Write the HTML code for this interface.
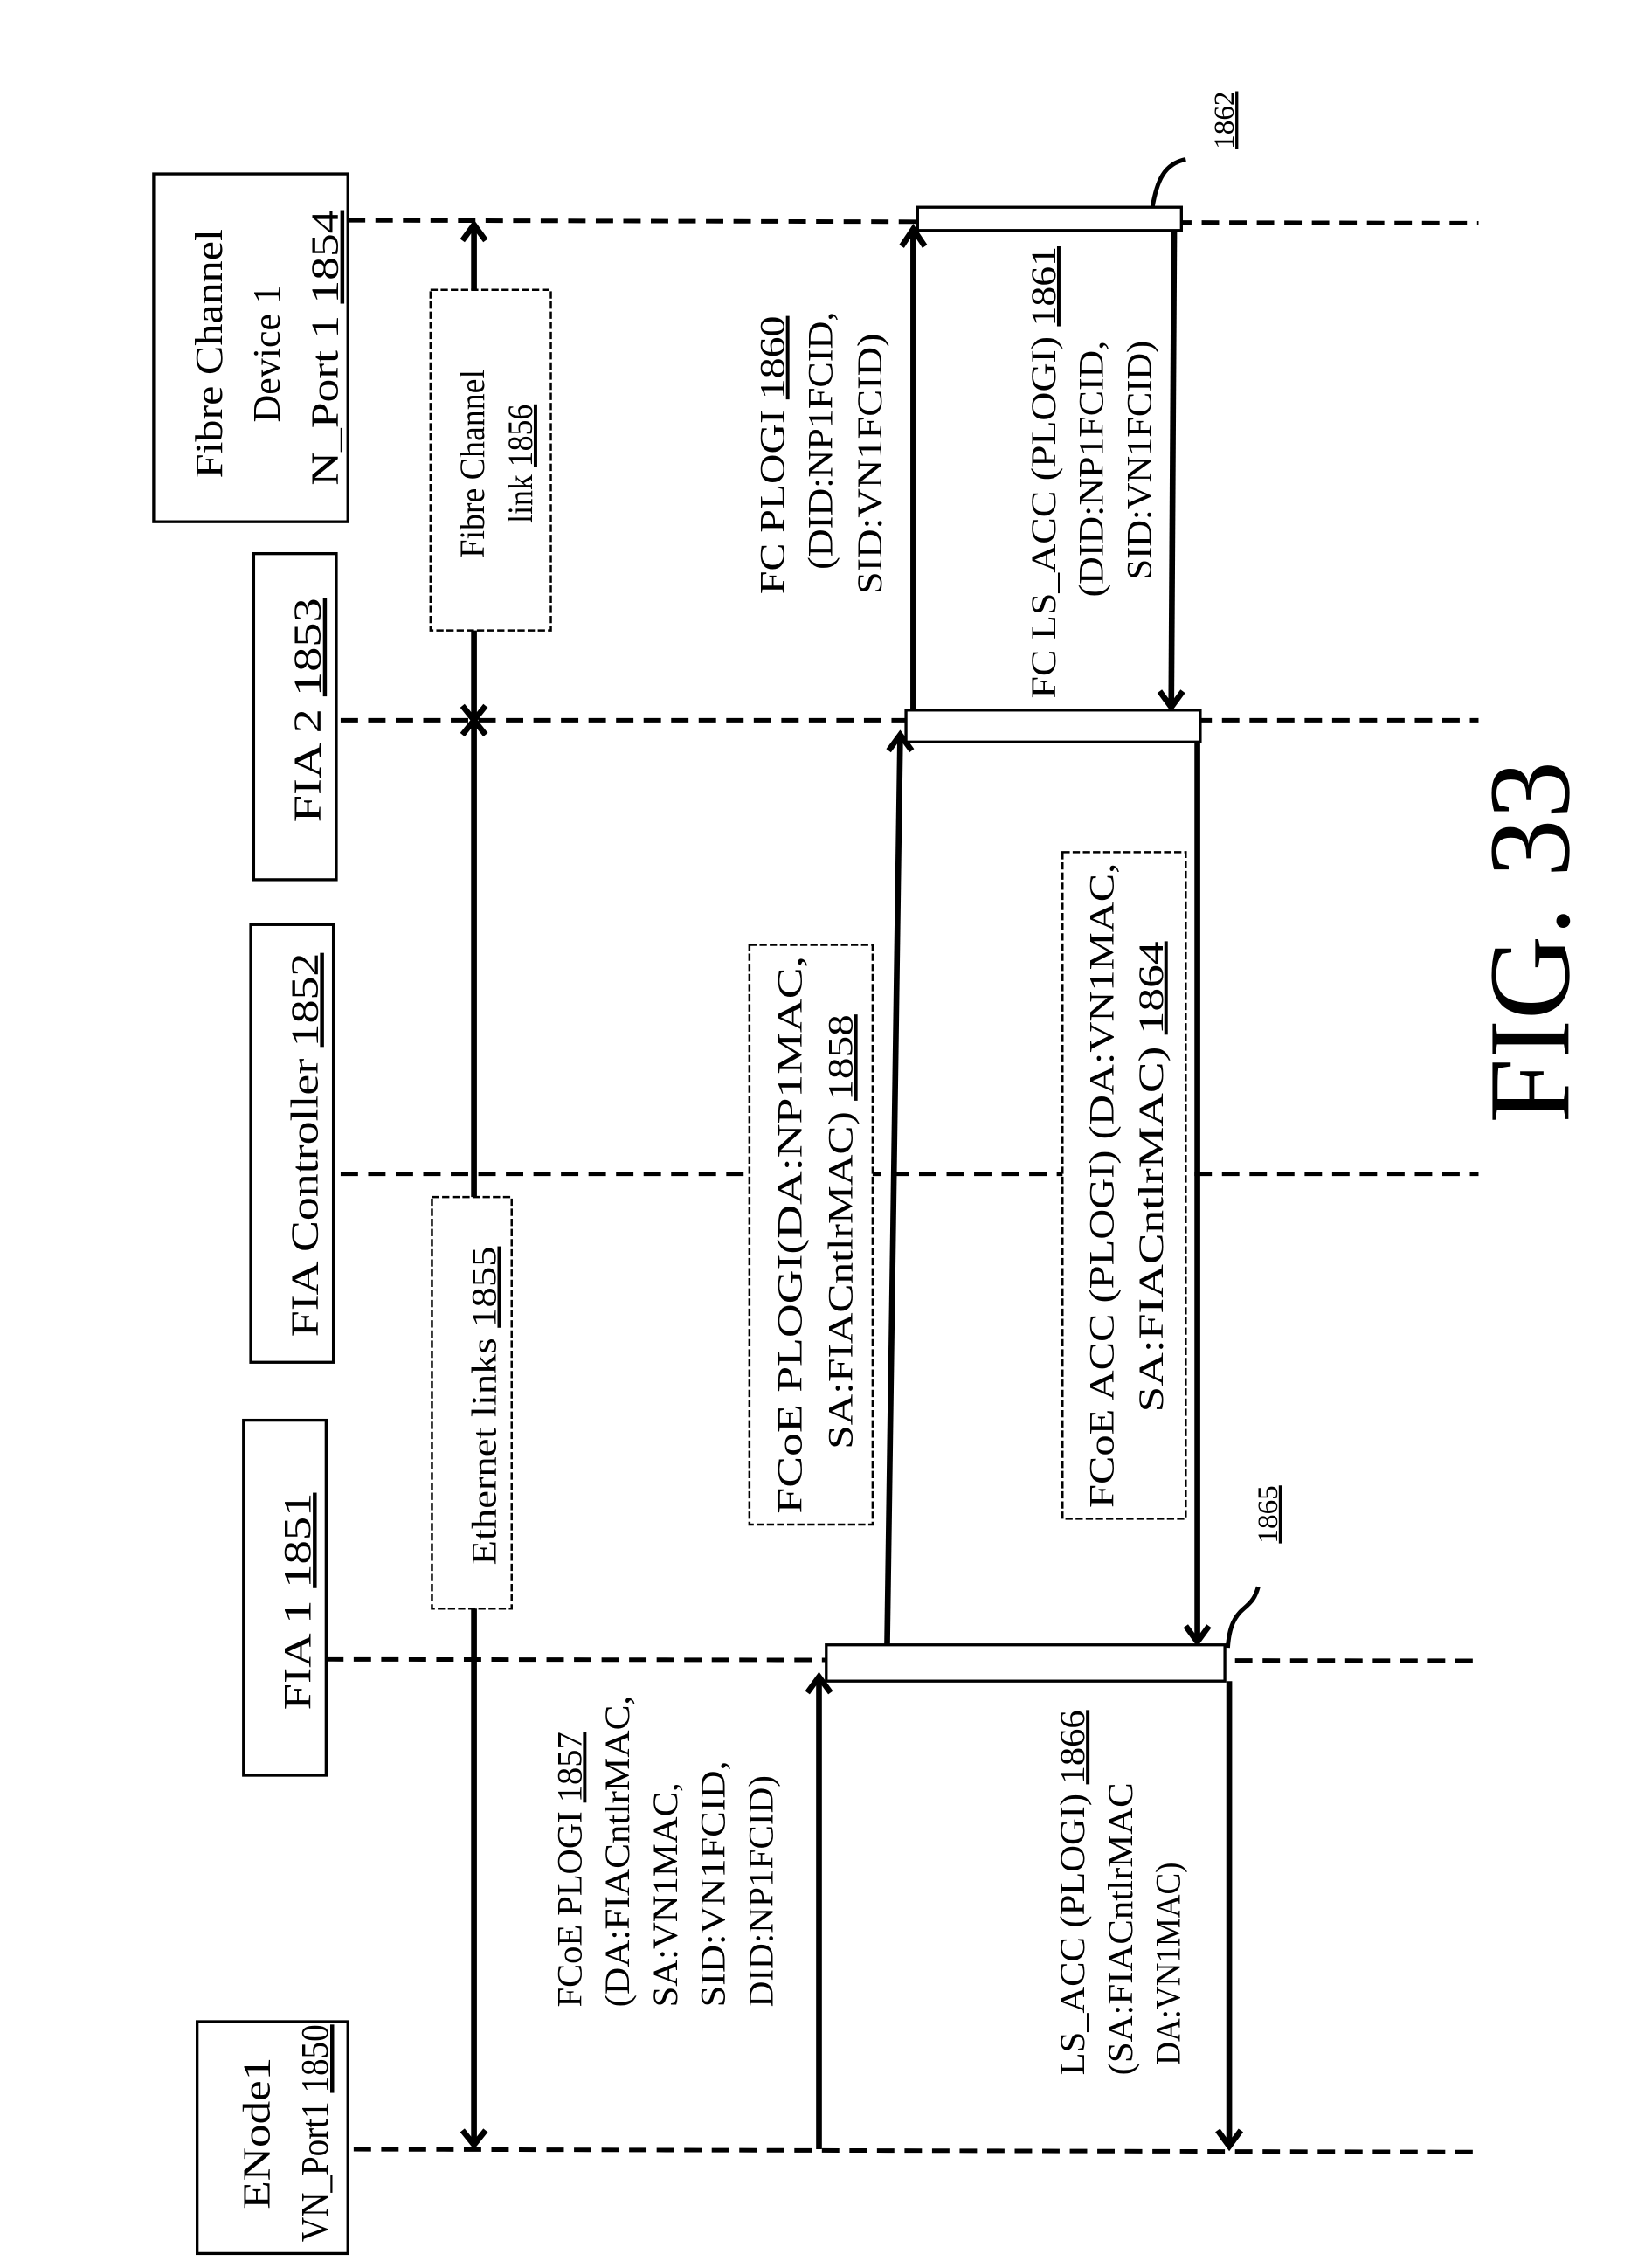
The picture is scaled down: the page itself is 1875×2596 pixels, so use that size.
<!DOCTYPE html>
<html><head><meta charset="utf-8"><style>
html,body{margin:0;padding:0;background:#fff;}
svg{display:block;}
text{font-family:"Liberation Serif",serif;fill:#000;}
.u{text-decoration:underline;}
</style></head><body>
<svg width="1875" height="2596" viewBox="0 0 1130 1565" preserveAspectRatio="none" xmlns="http://www.w3.org/2000/svg">
<g stroke="#000" stroke-width="3" stroke-dasharray="12 7" fill="none">
<line x1="240" y1="152" x2="1020" y2="154"/>
<line x1="235" y1="497" x2="1020" y2="497"/>
<line x1="235" y1="810" x2="1020" y2="810"/>
<line x1="225" y1="1145" x2="1020" y2="1146"/>
<line x1="225" y1="1483" x2="1020" y2="1485"/>
</g>
<g stroke="#000" stroke-width="2" fill="#fff">
<rect x="106" y="120" width="134" height="240"/>
<rect x="175" y="382" width="57" height="225"/>
<rect x="173" y="638" width="57" height="302"/>
<rect x="168" y="980" width="57" height="245"/>
<rect x="136" y="1395" width="104" height="160"/>
</g>
<g stroke="#000" stroke-width="1.5" stroke-dasharray="5 2" fill="#fff">
<rect x="297" y="200" width="83" height="235"/>
<rect x="298" y="826" width="55" height="284"/>
<rect x="517" y="652" width="85" height="400"/>
<rect x="733" y="588" width="85" height="460"/>
</g>
<g stroke="#000" stroke-width="4" fill="none">
<line x1="327" y1="155" x2="327" y2="200"/>
<line x1="327" y1="435" x2="327" y2="826"/>
<line x1="327" y1="1110" x2="327" y2="1480"/>
<polyline points="319,166 327,155 335,166"/>
<polyline points="319,487 327,497 335,487"/>
<polyline points="319,507 327,497 335,507"/>
<polyline points="319,1470 327,1480 335,1470"/>
<line x1="565" y1="1483" x2="565" y2="1158"/>
<polyline points="557,1168 565,1157 573,1168"/>
<line x1="612" y1="1135" x2="621" y2="508"/>
<polyline points="613,518 621,507 629,518"/>
<line x1="630" y1="490" x2="630" y2="158"/>
<polyline points="622,170 630,158 638,170"/>
<line x1="810" y1="160" x2="808" y2="488"/>
<polyline points="800,477 808,488 816,477"/>
<line x1="826" y1="513" x2="826" y2="1133"/>
<polyline points="818,1122 826,1133 834,1122"/>
<line x1="848" y1="1160" x2="848" y2="1480"/>
<polyline points="840,1470 848,1481 856,1470"/>
</g>
<g stroke="#000" stroke-width="2" fill="#fff">
<rect x="633" y="143" width="182" height="16"/>
<rect x="625" y="490" width="203" height="22"/>
<rect x="570" y="1135" width="275" height="25"/>
</g>
<g stroke="#000" stroke-width="3" fill="none">
<path d="M795,143 C798,125 803,113 818,110"/>
<path d="M847,1137 C848,1122 852,1115 858,1110 C864,1105 866,1102 868,1095"/>
</g>
<g font-size="27">
<text transform="translate(153,244) rotate(-90)" text-anchor="middle" textLength="172" lengthAdjust="spacingAndGlyphs">Fibre Channel</text>
<text transform="translate(193,244) rotate(-90)" text-anchor="middle" textLength="95" lengthAdjust="spacingAndGlyphs">Device 1</text>
<text transform="translate(233,240) rotate(-90)" text-anchor="middle" textLength="190" lengthAdjust="spacingAndGlyphs">N_Port 1 <tspan class="u">1854</tspan></text>
<text transform="translate(221,490) rotate(-90)" text-anchor="middle" textLength="155" lengthAdjust="spacingAndGlyphs">FIA 2 <tspan class="u">1853</tspan></text>
<text transform="translate(219,790) rotate(-90)" text-anchor="middle" textLength="265" lengthAdjust="spacingAndGlyphs">FIA Controller <tspan class="u">1852</tspan></text>
<text transform="translate(214,1105) rotate(-90)" text-anchor="middle" textLength="150" lengthAdjust="spacingAndGlyphs">FIA 1 <tspan class="u">1851</tspan></text>
<text transform="translate(186,1472) rotate(-90)" text-anchor="middle" textLength="105" lengthAdjust="spacingAndGlyphs">ENode1</text>
<text transform="translate(226,1472) rotate(-90)" text-anchor="middle" textLength="150" lengthAdjust="spacingAndGlyphs">VN_Port1 <tspan class="u">1850</tspan></text>
</g>
<g font-size="24">
<text transform="translate(334,320) rotate(-90)" text-anchor="middle" textLength="130" lengthAdjust="spacingAndGlyphs">Fibre Channel</text>
<text transform="translate(367,320) rotate(-90)" text-anchor="middle" textLength="82" lengthAdjust="spacingAndGlyphs">link <tspan class="u">1856</tspan></text>
<text transform="translate(342,970) rotate(-90)" text-anchor="middle" textLength="220" lengthAdjust="spacingAndGlyphs">Ethernet links <tspan class="u">1855</tspan></text>
<text transform="translate(553,852) rotate(-90)" text-anchor="middle" textLength="385" lengthAdjust="spacingAndGlyphs">FCoE PLOGI(DA:NP1MAC,</text>
<text transform="translate(588,850) rotate(-90)" text-anchor="middle" textLength="300" lengthAdjust="spacingAndGlyphs">SA:FIACntlrMAC) <tspan class="u">1858</tspan></text>
<text transform="translate(768,818) rotate(-90)" text-anchor="middle" textLength="445" lengthAdjust="spacingAndGlyphs">FCoE ACC (PLOGI) (DA:VN1MAC,</text>
<text transform="translate(802,812) rotate(-90)" text-anchor="middle" textLength="325" lengthAdjust="spacingAndGlyphs">SA:FIACntlrMAC) <tspan class="u">1864</tspan></text>
<text transform="translate(541,410) rotate(-90)" textLength="192" lengthAdjust="spacingAndGlyphs">FC PLOGI <tspan class="u">1860</tspan></text>
<text transform="translate(574,393) rotate(-90)" textLength="178" lengthAdjust="spacingAndGlyphs">(DID:NP1FCID,</text>
<text transform="translate(608,410) rotate(-90)" textLength="180" lengthAdjust="spacingAndGlyphs">SID:VN1FCID)</text>
<text transform="translate(728,482) rotate(-90)" textLength="312" lengthAdjust="spacingAndGlyphs">FC LS_ACC (PLOGI) <tspan class="u">1861</tspan></text>
<text transform="translate(761,412) rotate(-90)" textLength="177" lengthAdjust="spacingAndGlyphs">(DID:NP1FCID,</text>
<text transform="translate(794,400) rotate(-90)" textLength="165" lengthAdjust="spacingAndGlyphs">SID:VN1FCID)</text>
<text transform="translate(401,1385) rotate(-90)" textLength="190" lengthAdjust="spacingAndGlyphs">FCoE PLOGI <tspan class="u">1857</tspan></text>
<text transform="translate(434,1385) rotate(-90)" textLength="215" lengthAdjust="spacingAndGlyphs">(DA:FIACntlrMAC,</text>
<text transform="translate(467,1385) rotate(-90)" textLength="155" lengthAdjust="spacingAndGlyphs">SA:VN1MAC,</text>
<text transform="translate(500,1385) rotate(-90)" textLength="170" lengthAdjust="spacingAndGlyphs">SID:VN1FCID,</text>
<text transform="translate(533,1385) rotate(-90)" textLength="160" lengthAdjust="spacingAndGlyphs">DID:NP1FCID)</text>
<text transform="translate(748,1432) rotate(-90)" textLength="252" lengthAdjust="spacingAndGlyphs">LS_ACC (PLOGI) <tspan class="u">1866</tspan></text>
<text transform="translate(781,1432) rotate(-90)" textLength="202" lengthAdjust="spacingAndGlyphs">(SA:FIACntlrMAC</text>
<text transform="translate(814,1425) rotate(-90)" textLength="140" lengthAdjust="spacingAndGlyphs">DA:VN1MAC)</text>
</g>
<g font-size="20">
<text transform="translate(851,83) rotate(-90)" text-anchor="middle" class="u">1862</text>
<text transform="translate(881,1045) rotate(-90)" text-anchor="middle" class="u">1865</text>
</g>
<text transform="translate(1082,650) rotate(-90)" text-anchor="middle" font-size="80" textLength="250" lengthAdjust="spacingAndGlyphs">FIG. 33</text>
</svg>
</body></html>
